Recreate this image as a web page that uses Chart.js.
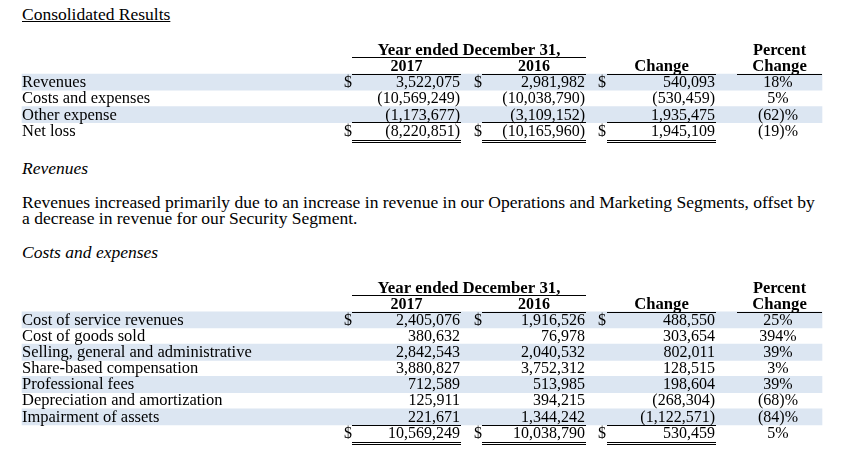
<!DOCTYPE html>
<html>
<head>
<meta charset="utf-8">
<script src="https://cdn.jsdelivr.net/npm/chart.js@4.4.1/dist/chart.umd.min.js"></script>
<style>
  body { margin: 0; background: #fff; width: 857px; height: 460px; overflow: hidden; position: relative; }
  .txt { position: absolute; left: 22px; font: 17px "Liberation Serif", "Times New Roman", serif; line-height: 16px; color: #000;
         white-space: nowrap; transform: scaleX(1.03); transform-origin: 0 0; }
  .title { text-decoration: underline; }
  .ital { font-style: italic; }
  canvas { position: absolute; left: 0; }
</style>
</head>
<body>
<div class="txt title" style="top:7px">Consolidated Results</div>
<div class="txt ital" style="top:161px">Revenues</div>
<div class="txt" style="top:195px">Revenues increased primarily due to an increase in revenue in our Operations and Marketing Segments, offset by<br>a decrease in revenue for our Security Segment.</div>
<div class="txt ital" style="top:245px">Costs and expenses</div>
<canvas id="summary" width="857" height="106" style="top:41px"></canvas>
<canvas id="costs" width="857" height="170" style="top:279px"></canvas>
<script>
// Consolidated results
const summaryRows = ['Revenues', 'Costs and expenses', 'Other expense', 'Net loss'];
const summary2017 = [3522075, -10569249, -1173677, -8220851];
const summary2016 = [2981982, -10038790, -3109152, -10165960];
const summaryChange = [540093, -530459, 1935475, 1945109];
const summaryPct = [18, 5, -62, -19];

// Costs and expenses (last row is the total)
const costRows = ['Cost of service revenues', 'Cost of goods sold', 'Selling, general and administrative',
    'Share-based compensation', 'Professional fees', 'Depreciation and amortization', 'Impairment of assets', ''];
const cost2017 = [2405076, 380632, 2842543, 3880827, 712589, 125911, 221671, 10569249];
const cost2016 = [1916526, 76978, 2040532, 3752312, 513985, 394215, 1344242, 10038790];
const costChange = [488550, 303654, 802011, 128515, 198604, -268304, -1122571, 530459];
const costPct = [25, 394, 39, 3, 39, -68, -84, 5];

const yearHeader = 'Year ended December 31,';
const yearLabels = ['2017', '2016'];
const changeLabel = 'Change';
const pctLabel = ['Percent', 'Change'];

const FONT = '"Liberation Serif", "Times New Roman", serif';
const BAND = '#dce6f2';

// column geometry (pixels on the hidden x axis)
const valueCols = [
    {dollar: 344, left: 352, right: 461},
    {dollar: 474, left: 482, right: 586},
    {dollar: 598, left: 607, right: 716}
];
const pctCol = {left: 737, right: 822, center: 778};
const labelX = 22;
const bandRight = 822;

function fmtNum(v) {
    const s = Math.abs(v).toLocaleString('en-US');
    return v < 0 ? '(' + s + ')' : s;
}

function fmtPct(v) {
    return v < 0 ? '(' + Math.abs(v) + ')%' : v + '%';
}

// text with a slight horizontal stretch, like the hinted original
function drawText(ctx, text, x, y, align, sx) {
    ctx.save();
    ctx.translate(x, y);
    ctx.scale(sx, 1);
    ctx.textAlign = align;
    ctx.fillText(text, 0, 0);
    ctx.restore();
}

const tablePlugin = {
    id: 'tableText',
    afterDatasetsDraw(chart, args, opts) {
        const t = opts;
        const ctx = chart.ctx;
        const xs = chart.scales.x, ys = chart.scales.y;
        const n = chart.data.labels.length;
        const rowH = ys.height / n;
        const top = i => ys.getPixelForValue(i) - rowH / 2;
        const base = i => top(i) + rowH * 0.8;
        const px = v => xs.getPixelForValue(v);
        const mid = c => (px(c.left) + px(c.right)) / 2;
        const hline = (x1, x2, yy) => ctx.fillRect(px(x1), yy, px(x2) - px(x1), 1);

        ctx.save();
        ctx.fillStyle = '#000';
        ctx.textBaseline = 'alphabetic';

        // headers
        ctx.font = 'bold 16px ' + FONT;
        drawText(ctx, yearHeader, (px(valueCols[0].left) + px(valueCols[1].right)) / 2, base(0), 'center', 1.05);
        drawText(ctx, yearLabels[0], mid(valueCols[0]), base(1), 'center', 1.0);
        drawText(ctx, yearLabels[1], mid(valueCols[1]), base(1), 'center', 1.0);
        drawText(ctx, changeLabel, mid(valueCols[2]), base(1), 'center', 1.04);
        drawText(ctx, pctLabel[0], mid(pctCol), base(0), 'center', 1.02);
        drawText(ctx, pctLabel[1], mid(pctCol), base(1), 'center', 1.04);

        const yHead = Math.round(top(1) - 0.3);
        const yCols = Math.round(top(2) - 0.3);
        hline(valueCols[0].left, valueCols[1].right, yHead);
        valueCols.forEach(c => hline(c.left, c.right, yCols));
        hline(pctCol.left, pctCol.right, yCols);

        // body rows
        ctx.font = '16px ' + FONT;
        const cols = [t.y2017, t.y2016, t.change];
        t.rows.forEach((label, r) => {
            const i = r + 2;
            const yb = base(i);
            drawText(ctx, label, px(labelX), yb, 'left', 1.03);
            const withDollar = t.dollarRows.includes(r);
            valueCols.forEach((c, k) => {
                if (withDollar) {
                    drawText(ctx, '$', px(c.dollar), yb, 'left', 1.0);
                }
                drawText(ctx, fmtNum(cols[k][r]), px(c.right - 1), yb, 'right', 1.0);
            });
            drawText(ctx, fmtPct(t.pct[r]), px(pctCol.center), yb, 'center', 1.0);
        });

        // rules around the total row
        const last = t.rows.length + 1;
        const yAbove = Math.round(top(last) - 0.3);
        const yBottom = Math.round(top(last) + rowH);
        valueCols.forEach(c => {
            hline(c.left, c.right, yAbove);
            hline(c.left, c.right, yBottom + 1);
            hline(c.left, c.right, yBottom + 3);
        });
        ctx.restore();
    }
};

function bandData(rows) {
    // two header lines, then alternate shading on the body rows (total row excluded)
    const out = [null, null];
    rows.forEach((r, i) => out.push(i % 2 === 0 && i < rows.length - 1 ? [labelX, bandRight] : null));
    return out;
}

function printTable(id, table, padTop) {
    const ctx = document.getElementById(id);
    const labels = ['h1', 'h2'].concat(table.rows.map((r, i) => i + ':' + r));
    new Chart(ctx, {
        type: 'bar',
        data: {
            labels: labels,
            datasets: [{
                data: bandData(table.rows),
                backgroundColor: BAND,
                borderWidth: 0,
                categoryPercentage: 1,
                barPercentage: 1
            }]
        },
        options: {
            indexAxis: 'y',
            responsive: false,
            animation: false,
            events: [],
            layout: {padding: {top: padTop, bottom: 8, left: 0, right: 0}},
            scales: {
                x: {type: 'linear', min: 0, max: 857, display: false},
                y: {type: 'category', display: false, offset: true}
            },
            plugins: {
                legend: {display: false},
                tooltip: {enabled: false},
                tableText: table
            }
        },
        plugins: [tablePlugin]
    });
}

printTable('summary', {
    rows: summaryRows, y2017: summary2017, y2016: summary2016,
    change: summaryChange, pct: summaryPct, dollarRows: [0, 3]
}, 0.5);

printTable('costs', {
    rows: costRows, y2017: cost2017, y2016: cost2016,
    change: costChange, pct: costPct, dollarRows: [0, 7]
}, 0.6);
</script>
</body>
</html>
